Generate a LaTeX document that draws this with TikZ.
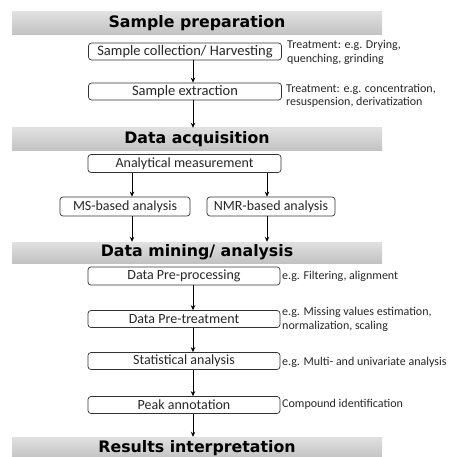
\documentclass[tikz,border=0pt]{standalone}
\usepackage{fontspec}
\setmainfont{Carlito}
\newfontfamily\bannerfont{DejaVu Sans}
\usetikzlibrary{arrows.meta}
\begin{document}
\begin{tikzpicture}[x=1pt,y=-1pt,
  banner/.style={minimum width=370pt, minimum height=23pt, inner sep=0pt,
    top color=black!12, bottom color=black!24, draw=none,
    font=\bannerfont\bfseries\fontsize{15.8}{15.8}\selectfont},
  box/.style={draw=black!80, rounded corners=3pt, line width=0.7pt,
    minimum width=193pt, minimum height=17pt, inner sep=0pt,
    font=\fontsize{14}{14}\selectfont, text=black!85},
  note/.style={anchor=west, align=left, inner sep=0pt,
    font=\fontsize{12}{13.5}\selectfont, text=black!85},
  arr/.style={-{Stealth[length=5pt,width=4.5pt]}, line width=0.8pt}
]
\useasboundingbox (0,0) rectangle (451,457);
% banners
\node[banner] (ban1) at (197,23.5) {Sample preparation};
\node[banner] (ban2) at (197,139.5) {Data acquisition};
\node[banner, minimum height=21pt] (ban3) at (197,252.5) {Data mining/ analysis};
\node[banner, minimum height=22pt] (ban4) at (197,448) {Results interpretation};
% sample preparation
\node[box, font=\fontsize{14.5}{14.5}\selectfont] (sc) at (185,51.5) {Sample collection/ Harvesting};
\node[box, font=\fontsize{14.5}{14.5}\selectfont] (se) at (185,91.5) {Sample extraction};
\node[note] (n1) at (287,52.5) {Treatment: e.g. Drying,\\quenching, grinding};
\node[note] (n2) at (286,96) {Treatment: e.g. concentration,\\resuspension, derivatization};
% data acquisition
\node[box, minimum height=18pt] (am) at (184.5,163.5) {Analytical measurement};
\node[box, minimum width=130pt, minimum height=19pt] (ms) at (125,206.5) {MS-based analysis};
\node[box, minimum width=128pt, minimum height=19pt] (nmr) at (271,206.5) {NMR-based analysis};
\coordinate (xl) at (132,0);
\coordinate (xr) at (267,0);
% data mining
\node[box, minimum width=192pt, minimum height=18pt] (dp) at (184,276) {Data Pre-processing};
\node[box, minimum width=192pt] (dt) at (184,319) {Data Pre-treatment};
\node[box, minimum width=192pt] (sa) at (184,361) {Statistical analysis};
\node[box, minimum width=192pt] (pa) at (184,405) {Peak annotation};
\node[note] (n3) at (282,276) {e.g. Filtering, alignment};
\node[note] (n4) at (282,319.5) {e.g. Missing values estimation,\\normalization, scaling};
\node[note] (n5) at (282,362) {e.g. Multi- and univariate analysis};
\node[note] (n6) at (282,404) {Compound identification};
% arrows
\draw[arr] (sc.south -| 193,0) -- (se.north -| 193,0);
\draw[arr] (se.south -| 193,0) -- (ban2.north -| 193,0);
\draw[arr] (am.south -| xl) -- (ms.north -| xl);
\draw[arr] (am.south -| xr) -- (nmr.north -| xr);
\draw[arr] (ms.south -| xl) -- (ban3.north -| xl);
\draw[arr] (nmr.south -| xr) -- (ban3.north -| xr);
\draw[arr] (dp.south -| 193,0) -- (dt.north -| 193,0);
\draw[arr] (dt.south -| 193,0) -- (sa.north -| 193,0);
\draw[arr] (sa.south -| 193,0) -- (pa.north -| 193,0);
\draw[arr] (pa.south -| 193,0) -- (ban4.north -| 193,0);
\end{tikzpicture}
\end{document}
